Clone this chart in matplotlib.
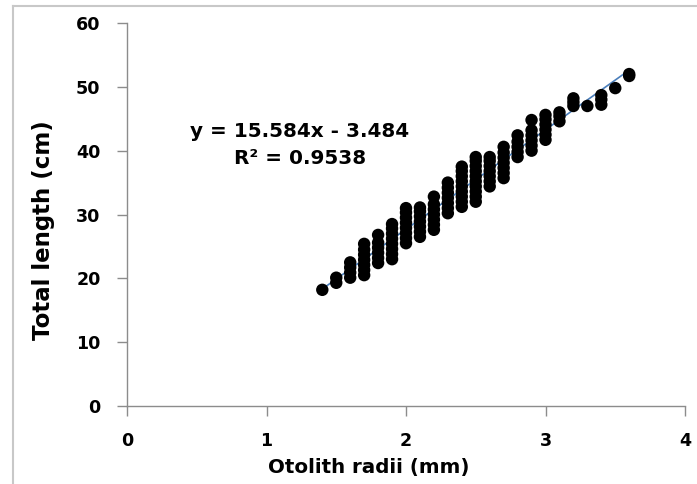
import matplotlib
matplotlib.use("Agg")
import matplotlib.pyplot as plt
from matplotlib.lines import Line2D

# ---- data ----
radius_mm = (
    [1.4]
    + [1.5] * 2
    + [1.6] * 4
    + [1.7] * 7
    + [1.8] * 6
    + [1.9] * 8
    + [2.0] * 8
    + [2.1] * 7
    + [2.2] * 7
    + [2.3] * 7
    + [2.4] * 9
    + [2.5] * 10
    + [2.6] * 7
    + [2.7] * 7
    + [2.8] * 5
    + [2.9] * 6
    + [3.0] * 6
    + [3.1] * 3
    + [3.2] * 3
    + [3.3]
    + [3.4] * 3
    + [3.5]
    + [3.6] * 2
)
length_cm = [
    18.2,
    19.3, 20.1,
    20.1, 20.9, 21.7, 22.5,
    20.5, 21.3, 22.1, 22.9, 23.7, 24.5, 25.4,
    22.4, 23.2, 24.0, 24.8, 25.6, 26.8,
    23.0, 23.8, 24.6, 25.4, 26.2, 27.0, 27.8, 28.5,
    25.5, 26.3, 27.1, 27.9, 28.7, 29.5, 30.3, 31.0,
    26.5, 27.3, 28.1, 28.9, 29.7, 30.5, 31.1,
    27.6, 28.4, 29.2, 30.0, 30.8, 31.6, 32.8,
    30.2, 31.0, 31.8, 32.6, 33.4, 34.2, 35.0,
    31.2, 32.0, 32.8, 33.6, 34.4, 35.2, 36.0, 36.8, 37.5,
    32.0, 32.8, 33.6, 34.4, 35.2, 36.0, 36.8, 37.6, 38.4, 39.0,
    34.4, 35.2, 36.0, 36.8, 37.6, 38.4, 39.0,
    35.7, 36.5, 37.3, 38.1, 38.9, 39.7, 40.6,
    39.0, 39.8, 40.6, 41.4, 42.4,
    40.0, 40.8, 41.6, 42.4, 43.2, 44.8,
    41.7, 42.5, 43.3, 44.1, 44.9, 45.6,
    44.6, 45.4, 46.0,
    47.0, 47.6, 48.2,
    47.0,
    47.2, 48.0, 48.7,
    49.8,
    51.7, 52.0,
]
slope = 15.584
intercept = -3.484
r_squared = 0.9538
x_ticks = [0, 1, 2, 3, 4]
y_ticks = [0, 10, 20, 30, 40, 50, 60]

# ---- figure ----
plt.rcParams['font.family'] = ['DejaVu Sans']
W, H = 697, 484
fig = plt.figure(figsize=(W / 100, H / 100), dpi=100)
fig.patch.set_facecolor('white')
# chart-area frame (only left and top edges fall inside the picture)
fx, fy = 12.5 / W, (H - 5.5) / H
fig.lines.append(Line2D([fx, fx], [0, fy], transform=fig.transFigure,
                        color='#c8c8c8', linewidth=1.5))
fig.lines.append(Line2D([fx, 1], [fy, fy], transform=fig.transFigure,
                        color='#c8c8c8', linewidth=1.5))

ax = fig.add_axes([127 / W, (H - 406) / H, (685 - 127) / W, (406 - 23) / H])

# trend line
tx = [min(radius_mm), max(radius_mm)]
ty = [slope * v + intercept for v in tx]
ax.plot(tx, ty, color='#4a7ebb', linewidth=1.2, zorder=2)
ax.scatter(radius_mm, length_cm, s=80, color='black', edgecolors='none', zorder=3)

ax.set_xlim(0, 4)
ax.set_ylim(0, 60)
ax.set_xticks(x_ticks)
ax.set_yticks(y_ticks)
ax.set_xticklabels([str(v) for v in x_ticks], fontsize=12.6, fontweight='bold')
ax.set_yticklabels([str(v) for v in y_ticks], fontsize=12.6, fontweight='bold')
for s in ['top', 'right']:
    ax.spines[s].set_visible(False)
for s in ['left', 'bottom']:
    ax.spines[s].set_color('#8c8c8c')
    ax.spines[s].set_linewidth(1.0)
ax.tick_params(axis='both', direction='out', length=7, width=1.0,
               color='#8c8c8c', pad=12)
ax.tick_params(axis='y', pad=12)

ax.set_xlabel('Otolith radii (mm)', fontsize=14.3, fontweight='bold')
ax.set_ylabel('Total length (cm)', fontsize=16.5, fontweight='bold')
ax.xaxis.set_label_coords((369 - 127) / (685 - 127), -(468 - 406) / (406 - 23))
ax.xaxis.label.set_va('center')
ax.yaxis.set_label_coords(-(127 - 44) / (685 - 127), (406 - 230) / (406 - 23))
ax.yaxis.label.set_va('center')

ax.text((300 - 127) / (685 - 127), (406 - 145) / (406 - 23),
        f'y = {slope}x - {abs(intercept)}\nR² = {r_squared}',
        transform=ax.transAxes,
        ha='center', va='center', fontsize=14.4, fontweight='bold',
        linespacing=1.5, multialignment='center')

fig.savefig('out.png', dpi=100)
